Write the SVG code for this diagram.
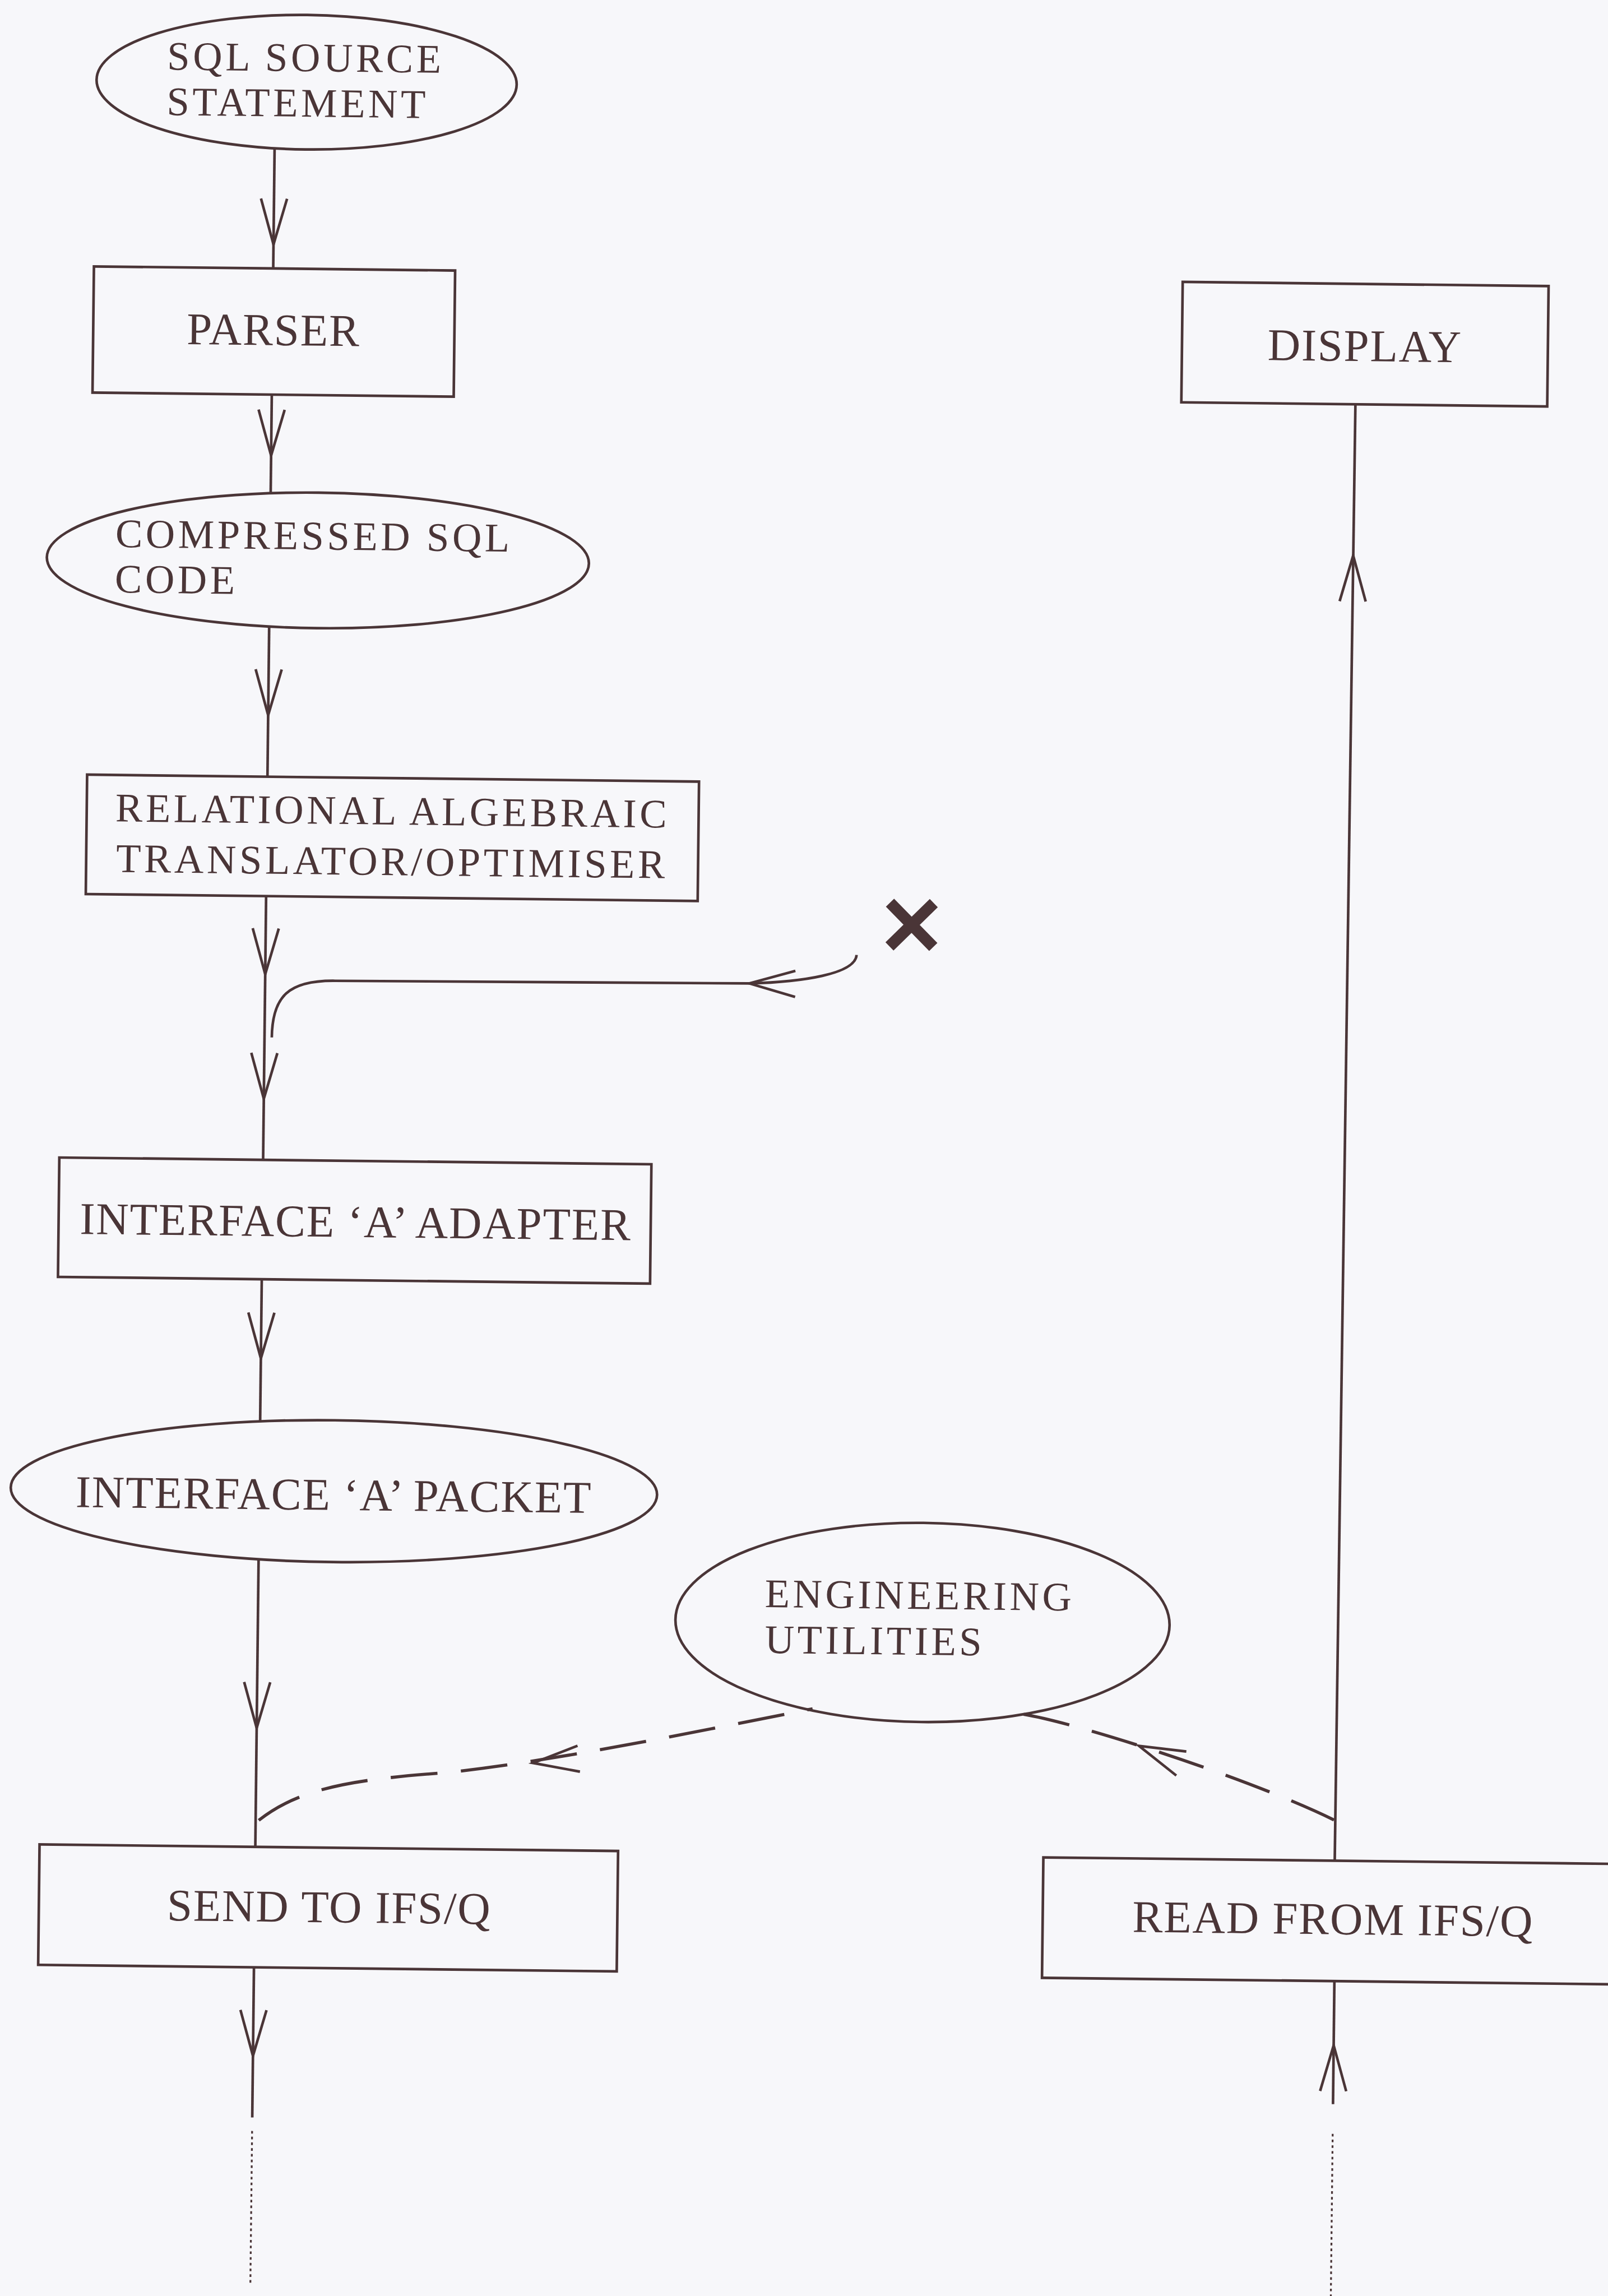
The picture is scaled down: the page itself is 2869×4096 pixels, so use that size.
<svg xmlns="http://www.w3.org/2000/svg" xmlns:xlink="http://www.w3.org/1999/xlink" width="2869" height="4096" viewBox="0 0 2869 4096">
<style>
.s{fill:none;stroke:#4a3537;stroke-width:5}
.d{fill:none;stroke:#4a3537;stroke-width:6;stroke-dasharray:90 45}
.o{fill:none;stroke:#4a3537;stroke-width:3.5;stroke-dasharray:5 6}
.t{font-family:"Liberation Serif","Times New Roman",serif;font-size:87px;letter-spacing:2px;fill:#4a3537}
.t2{font-family:"Liberation Serif","Times New Roman",serif;font-size:78px;letter-spacing:6px;fill:#4a3537}
.m{text-anchor:middle}
</style>
<defs>
<path id="v" d="M-88,-25 L0,0 L-88,25" fill="none" stroke="#4a3537" stroke-width="5"/>
</defs>
<rect width="2869" height="4096" fill="#f7f7fa"/>
<g transform="scale(0.93) rotate(0.65)">
<g id="sql-source">
<ellipse class="s" cx="590" cy="151" rx="403" ry="129"/>
<text class="t2" x="322" y="130">SQL SOURCE</text>
<text class="t2" x="322" y="217">STATEMENT</text>
</g>
<g id="parser">
<rect class="s" x="186" y="509" width="693" height="242"/>
<text class="t m" x="532" y="656">PARSER</text>
</g>
<g id="compressed">
<ellipse class="s" cx="622" cy="1068" rx="520" ry="130"/>
<text class="t2" x="233" y="1047">COMPRESSED SQL</text>
<text class="t2" x="233" y="1134">CODE</text>
</g>
<g id="translator">
<rect class="s" x="184" y="1484" width="1174" height="229"/>
<text class="t2 m" x="771" y="1573">RELATIONAL ALGEBRAIC</text>
<text class="t2 m" x="771" y="1670">TRANSLATOR/OPTIMISER</text>
</g>
<g id="x-mark">
<path d="M1727,1712 L1811,1796 M1811,1712 L1727,1796" fill="none" stroke="#4a3537" stroke-width="22"/>
</g>
<g id="adapter">
<rect class="s" x="139" y="2219" width="1136" height="229"/>
<text class="t m" x="709" y="2365">INTERFACE ‘A’ ADAPTER</text>
</g>
<g id="packet">
<ellipse class="s" cx="673" cy="2853" rx="620" ry="136"/>
<text class="t m" x="673" y="2889">INTERFACE ‘A’ PACKET</text>
</g>
<g id="engineering">
<ellipse class="s" cx="1805" cy="3092" rx="474" ry="191"/>
<text class="t2" x="1502" y="3066">ENGINEERING</text>
<text class="t2" x="1503" y="3154">UTILITIES</text>
</g>
<g id="send">
<rect class="s" x="116" y="3537" width="1110" height="231"/>
<text class="t m" x="673" y="3680">SEND TO IFS/Q</text>
</g>
<g id="display">
<rect class="s" x="2275" y="515" width="702" height="231"/>
<text class="t m" x="2626" y="663">DISPLAY</text>
</g>
<g id="read">
<rect class="s" x="2042" y="3540" width="1200" height="231"/>
<text class="t m" x="2599" y="3681">READ FROM IFS/Q</text>
</g>
<g id="connectors">
<path class="s" d="M530,279 V509"/>
<use xlink:href="#v" transform="translate(530 463) rotate(90)"/>
<path class="s" d="M530,751 V940"/>
<use xlink:href="#v" transform="translate(530 868) rotate(90)"/>
<path class="s" d="M530,1196 V1484"/>
<use xlink:href="#v" transform="translate(530 1366) rotate(90)"/>
<path class="s" d="M530,1713 V2219"/>
<use xlink:href="#v" transform="translate(530 1863) rotate(90)"/>
<use xlink:href="#v" transform="translate(530 2102) rotate(90)"/>
<path class="s" d="M544,1984 C544,1905 575,1874 664,1874 L1459,1870 C1560,1866 1662,1850 1664,1813"/>
<use xlink:href="#v" transform="translate(1459 1870) rotate(180)"/>
<path class="s" d="M530,2448 V2721"/>
<use xlink:href="#v" transform="translate(530 2600) rotate(90)"/>
<path class="s" d="M530,2985 V3537"/>
<use xlink:href="#v" transform="translate(530 3309) rotate(90)"/>
<path class="s" d="M530,3768 V4056"/>
<use xlink:href="#v" transform="translate(530 3938) rotate(90)"/>
<path class="o" d="M530,4082 V4375"/>
<path class="d" d="M536,3486 C615,3422 720,3405 900,3390 C1100,3365 1300,3322 1596,3260"/>
<use xlink:href="#v" transform="translate(1061 3370) rotate(174)"/>
<path class="d" d="M2001,3266 C2120,3285 2450,3390 2601,3463"/>
<use xlink:href="#v" transform="translate(2223 3324) rotate(-158)"/>
<path class="s" d="M2609,747 L2601,3540"/>
<use xlink:href="#v" transform="translate(2608 1036) rotate(-90)"/>
<path class="s" d="M2603,3771 V4007"/>
<use xlink:href="#v" transform="translate(2603 3894) rotate(-90)"/>
<path class="o" d="M2603,4064 V4400"/>
</g>
</g>
</svg>
